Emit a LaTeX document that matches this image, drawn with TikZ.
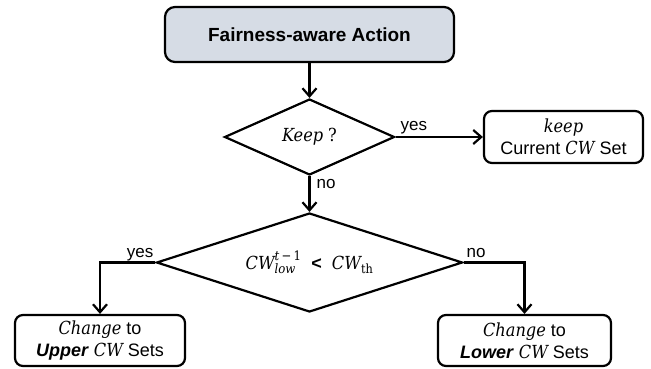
\documentclass[tikz,border=0pt]{standalone}
\usepackage{amsmath}
\usepackage{fontspec}
\setmainfont{Liberation Sans}
\newfontfamily\varfont{DejaVu Serif Condensed}
\newcommand{\mi}[1]{\text{\varfont\itshape #1}}
\newcommand{\mr}[1]{\text{\varfont #1}}
\newcommand{\idx}[1]{\mbox{\fontsize{13}{14}\selectfont\varfont #1}}
\usetikzlibrary{shapes.geometric,arrows.meta}
\definecolor{panel}{RGB}{214,220,229}

\begin{document}
\begin{tikzpicture}[x=1pt,y=-1pt,line width=2.2pt,
  bodytext/.style={font=\fontsize{18}{22}\selectfont},
  stepbox/.style={draw=black,rounded corners=8pt,align=center,inner sep=0pt,bodytext},
  titlebox/.style={stepbox,fill=panel,rounded corners=10pt,font=\fontsize{19}{23}\selectfont\bfseries},
  decision/.style={draw=black,diamond,inner sep=0pt,bodytext},
  flow/.style={-{Straight Barb[length=8pt,width=14pt]}},
  lbl/.style={font=\fontsize{17}{20}\selectfont,inner sep=1pt}]

\useasboundingbox (0,0) rectangle (651,369);

% boxes and decisions
\node[titlebox,minimum width=289pt,minimum height=55pt] (act) at (309.5,34.5) {Fairness-aware Action};
\node[decision,minimum width=170pt,minimum height=76pt,shape aspect=2] (keepq) at (309.5,137) {$\mi{Keep}\ \mr{?}$};
\node[stepbox,minimum width=159pt,minimum height=52pt] (cur) at (563.5,137) {$\mi{keep}$\\Current $\mi{CW}$ Set};
\node[decision,minimum width=306pt,minimum height=99pt,shape aspect=3] (thr) at (309.5,262.5)
  {$\mi{CW}^{\idx{\itshape t\upshape\,−\,1}}_{\idx{\itshape low}}$\ \ \textbf{<}\ \ $\mi{CW}_{\mr{th}}$};
\node[stepbox,minimum width=170pt,minimum height=51pt] (up) at (100,340.5) {$\mi{Change}$ to\\\textbf{\textit{Upper}} $\mi{CW}$ Sets};
\node[stepbox,minimum width=173pt,minimum height=51pt] (low) at (524.5,340.5) {$\mi{Change}$ to\\\textbf{\textit{Lower}} $\mi{CW}$ Sets};

% connectors
\draw[flow] (act.south) -- (keepq.north);
\draw[flow] (keepq.east) -- (cur.west);
\draw[flow] (keepq.south) -- (thr.north);
\draw[flow] (thr.west) -| (up.north);
\draw[flow] (thr.east) -| (low.north);

% branch labels
\node[lbl,anchor=base west] at ([xshift=3pt,yshift=7pt]keepq.east) {yes};
\node[lbl,anchor=west] at ([xshift=5pt,yshift=-8pt]keepq.south) {no};
\node[lbl,anchor=base east] at ([yshift=5pt]thr.west) {yes};
\node[lbl,anchor=base west] at ([xshift=1pt,yshift=5pt]thr.east) {no};
\end{tikzpicture}
\end{document}
